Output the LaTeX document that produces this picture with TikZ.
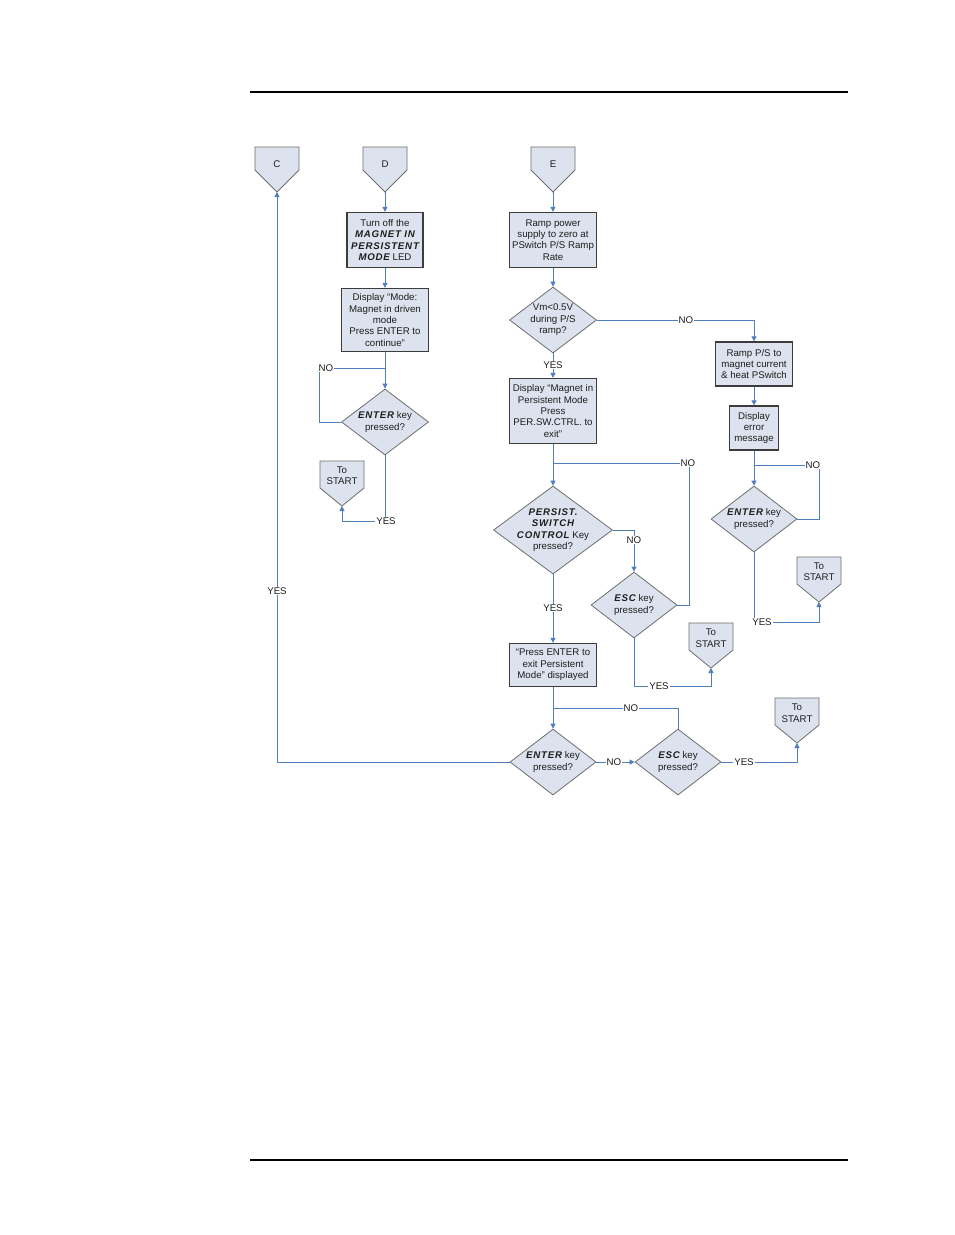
\documentclass[tikz,border=0pt]{standalone}
\usepackage{fontspec}
\setmainfont{Liberation Sans}
\newfontfamily\bisp[LetterSpace=8]{Liberation Sans}
\usetikzlibrary{arrows.meta,shapes.geometric}
\definecolor{lnblue}{HTML}{4F7FC0}
\definecolor{boxfill}{HTML}{DCE3EE}
\definecolor{boxline}{HTML}{3C3C3C}
\definecolor{diaLine}{HTML}{6E6E6E}
\definecolor{txtc}{HTML}{1E1E1E}
\newcommand\bi[1]{{\bisp\bfseries\itshape #1}}
% name, x, ytop, rect height, text, text offset
\newcommand\offpg[6]{%
  \path[shapeline] (#2-22,#3) -- (#2+22,#3) -- (#2+22,#3+#4) -- (#2,#3+45) -- (#2-22,#3+#4) -- cycle;
  \node[txt] (#1) at (#2,#3+#6) {#5};
  \coordinate (#1tip) at (#2,#3+45);}
\begin{document}
\begin{tikzpicture}[x=1pt,y=-1pt,
  font=\fontsize{9.7}{11.4}\selectfont, text=txtc,
  boxn/.style={rectangle, draw=boxline, line width=1.3pt, fill=boxfill, inner sep=0pt, align=center},
  dia/.style={diamond, draw=diaLine, line width=0.8pt, fill=boxfill, inner sep=0pt},
  shapeline/.style={draw=diaLine, line width=0.8pt, fill=boxfill},
  txt/.style={align=center, inner sep=0pt},
  conn/.style={draw=lnblue, line width=0.9pt},
  arr/.style={conn, -{Triangle[width=5pt,length=5pt]}},
  lbl/.style={fill=white, inner sep=1pt}]
\useasboundingbox (0,0) rectangle (954,1235);
\fill[white] (0,0) rectangle (954,1235);
% page rules
\coordinate (h1) at (250,92); \coordinate (h2) at (848,92);
\draw[line width=2.5pt] (h1) -- (h2);
\coordinate (f1) at (250,1160); \coordinate (f2) at (848,1160);
\draw[line width=1.1pt] (f1) -- (f2);

% off-page connectors
\offpg{C}{277}{147}{23}{C}{17}
\offpg{D}{385}{147}{23}{D}{17}
\offpg{E}{553}{147}{23}{E}{17}
\offpg{SA}{342}{461}{27}{To\\START}{15}
\offpg{SB}{711}{623}{27}{To\\START}{15}
\offpg{SC}{797}{698}{27}{To\\START}{15}
\offpg{SD}{819}{557}{27}{To\\START}{15}

% boxes
\node[boxn, minimum width=76pt, minimum height=55pt] (turnoff) at (385,240)
  {Turn off the\\ \bi{MAGNET IN}\\ \bi{PERSISTENT}\\ \bi{MODE} LED};
\node[boxn, minimum width=87pt, minimum height=63pt] (dispmode) at (385,320)
  {Display “Mode:\\ Magnet in driven\\ mode\\ Press ENTER to\\ continue”};
\node[boxn, minimum width=87pt, minimum height=55pt] (ramp) at (553,240)
  {Ramp power\\ supply to zero at\\ PSwitch P/S Ramp\\ Rate};
\node[boxn, minimum width=87pt, minimum height=65pt] (dispmag) at (553,411)
  {Display “Magnet in\\ Persistent Mode\\ Press\\ PER.SW.CTRL. to\\ exit”};
\node[boxn, minimum width=87pt, minimum height=43pt] (pressenter) at (553,665)
  {“Press ENTER to\\ exit Persistent\\ Mode” displayed};
\node[boxn, minimum width=77pt, minimum height=44pt] (rampps) at (754,364)
  {Ramp P/S to\\ magnet current\\ \& heat PSwitch};
\node[boxn, minimum width=49pt, minimum height=44pt] (disperr) at (754,428)
  {Display\\ error\\ message};

% diamonds
\node[dia, minimum width=87pt, minimum height=66pt] (enter1) at (385,422) {};
\node[txt] (enter1t) at (enter1) {\bi{ENTER} key\\ pressed?};
\node[dia, minimum width=87pt, minimum height=66pt] (vm) at (553,320) {};
\node[txt] (vmt) at (vm) {Vm<0.5V\\ during P/S\\ ramp?};
\node[dia, minimum width=119pt, minimum height=88pt] (persist) at (553,530) {};
\node[txt] (persistt) at (persist) {\bi{PERSIST.}\\ \bi{SWITCH}\\ \bi{CONTROL} Key\\ pressed?};
\node[dia, minimum width=86pt, minimum height=66pt] (esc1) at (634,605) {};
\node[txt] (esc1t) at (esc1) {\bi{ESC} key\\ pressed?};
\node[dia, minimum width=86pt, minimum height=66pt] (enter2) at (553,762) {};
\node[txt] (enter2t) at (enter2) {\bi{ENTER} key\\ pressed?};
\node[dia, minimum width=86pt, minimum height=66pt] (esc2) at (678,762) {};
\node[txt] (esc2t) at (esc2) {\bi{ESC} key\\ pressed?};
\node[dia, minimum width=86pt, minimum height=66pt] (enter3) at (754,519) {};
\node[txt] (enter3t) at (enter3) {\bi{ENTER} key\\ pressed?};

% junction points
\coordinate (j1) at (385,368);
\coordinate (j2) at (553,463);
\coordinate (j3) at (553,708);
\coordinate (j4) at (754,465);

% connectors, column D
\draw[arr] (Dtip) -- (turnoff.north);
\draw[arr] (turnoff.south) -- (dispmode.north);
\draw[arr] (dispmode.south) -- (enter1.north);
\draw[conn] (enter1.west) -- ++(-22,0) |- (j1);
\draw[arr] (enter1.south) -- ++(0,66) -| (SAtip);
\node[lbl] (no1) at (326,368) {NO};
\node[lbl] (yes1) at (386,521) {YES};

% column E
\draw[arr] (Etip) -- (ramp.north);
\draw[arr] (ramp.south) -- (vm.north);
\draw[arr] (vm.east) -| (rampps.north);
\draw[arr] (vm.south) -- (dispmag.north);
\draw[arr] (dispmag.south) -- (persist.north);
\draw[arr] (persist.east) -| (esc1.north);
\draw[conn] (esc1.east) -- ++(12,0) |- (j2);
\draw[arr] (esc1.south) -- ++(0,48) -| (SBtip);
\draw[arr] (persist.south) -- (pressenter.north);
\draw[arr] (pressenter.south) -- (enter2.north);
\draw[conn] (esc2.north) |- (j3);
\draw[arr] (enter2.east) -- (esc2.west);
\draw[arr] (esc2.east) -| (SCtip);
\draw[arr] (enter2.west) -| (Ctip);
\node[lbl] (no2) at (686,320) {NO};
\node[lbl] (yes2) at (553,365) {YES};
\node[lbl] (no3) at (634,540) {NO};
\node[lbl] (no4) at (688,463) {NO};
\node[lbl] (yes3) at (659,686) {YES};
\node[lbl] (yes4) at (553,608) {YES};
\node[lbl] (no5) at (631,708) {NO};
\node[lbl] (no6) at (614,762) {NO};
\node[lbl] (yes5) at (744,762) {YES};
\node[lbl] (yes6) at (277,591) {YES};

% right column
\draw[arr] (rampps.south) -- (disperr.north);
\draw[arr] (disperr.south) -- (enter3.north);
\draw[conn] (enter3.east) -- ++(22,0) |- (j4);
\draw[arr] (enter3.south) -- ++(0,70) -| (SDtip);
\node[lbl] (no7) at (813,465) {NO};
\node[lbl] (yes7) at (762,622) {YES};
\end{tikzpicture}
\end{document}
